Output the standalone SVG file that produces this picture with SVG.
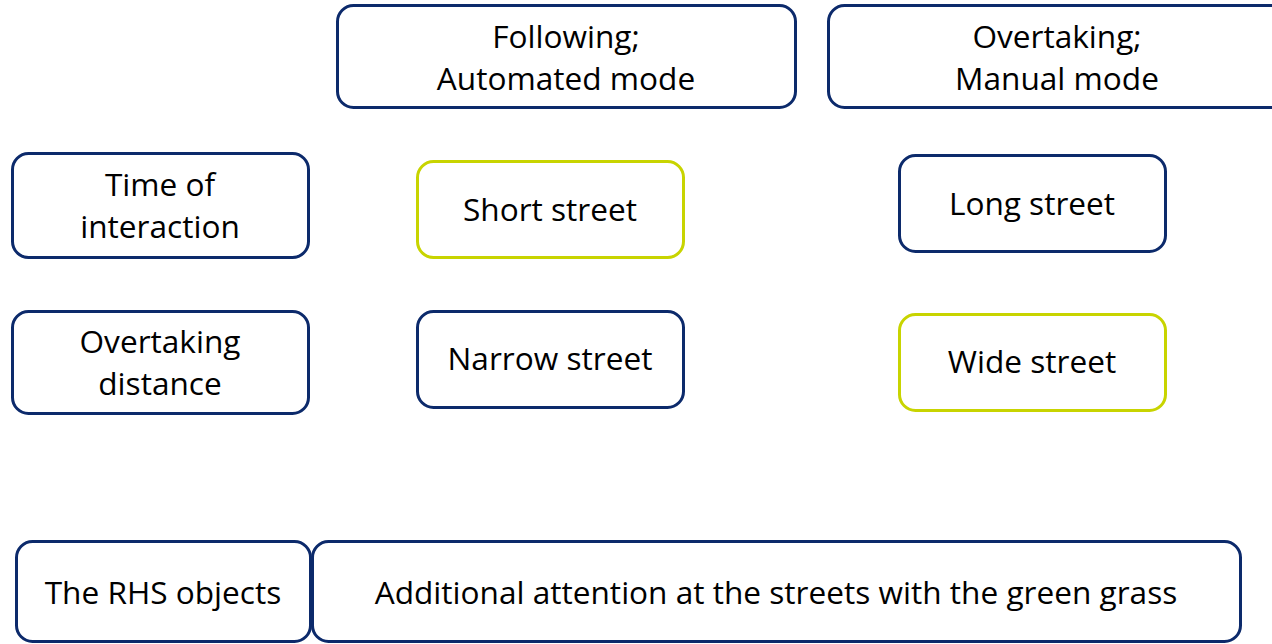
<svg xmlns="http://www.w3.org/2000/svg" width="1272" height="644" viewBox="0 0 1272 644">
<style>
.b{fill:#fff;stroke:#0c2a6b;stroke-width:3}
.g{fill:#fff;stroke:#c8d400;stroke-width:3}
text{font-family:"Open Sans","Liberation Sans",Arial,sans-serif;font-size:31.6px;fill:#000;text-anchor:middle}
</style>
<rect width="1272" height="644" fill="#fff"/>
<g id="following"><rect class="b" x="337.5" y="5.5" width="458" height="102" rx="16"/><text x="566" y="48">Following;</text><text x="566" y="90">Automated mode</text></g>
<g id="overtaking"><rect class="b" x="828.5" y="5.5" width="470" height="102" rx="16"/><text x="1057" y="48">Overtaking;</text><text x="1057" y="90">Manual mode</text></g>
<g id="time"><rect class="b" x="12.5" y="153.5" width="296" height="104" rx="16"/><text x="160" y="196">Time of</text><text x="160" y="238">interaction</text></g>
<g id="short"><rect class="g" x="417.5" y="161.5" width="266" height="96" rx="16"/><text x="550" y="221">Short street</text></g>
<g id="long"><rect class="b" x="899.5" y="155.5" width="266" height="96" rx="16"/><text x="1032" y="215">Long street</text></g>
<g id="distance"><rect class="b" x="12.5" y="311.5" width="296" height="102" rx="16"/><text x="160" y="353">Overtaking</text><text x="160" y="395">distance</text></g>
<g id="narrow"><rect class="b" x="417.5" y="311.5" width="266" height="96" rx="16"/><text x="550" y="370">Narrow street</text></g>
<g id="wide"><rect class="g" x="899.5" y="314.5" width="266" height="96" rx="16"/><text x="1032" y="373">Wide street</text></g>
<g id="rhs"><rect class="b" x="16.5" y="541.5" width="294" height="100" rx="16"/><text x="163" y="604">The RHS objects</text></g>
<g id="attention"><rect class="b" x="312.5" y="541.5" width="928" height="100" rx="16"/><text x="776" y="604">Additional attention at the streets with the green grass</text></g>
<g id="connectors"></g>
</svg>
